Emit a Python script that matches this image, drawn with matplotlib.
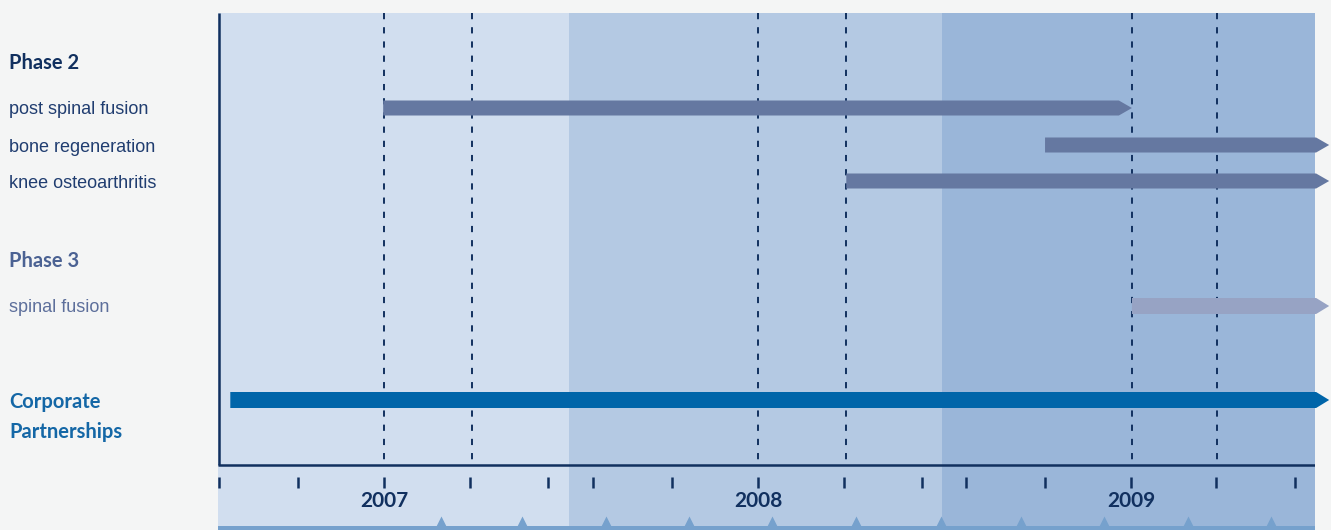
import matplotlib
matplotlib.use("Agg")
import matplotlib.pyplot as plt
import matplotlib.transforms as mtransforms
from matplotlib.patches import Polygon, Rectangle

# timeline, in fractional years
x_start, x_end = 2007.058, 2010.0
year_bands = [(2007.058, 2008.0), (2008.0, 2009.0), (2009.0, 2010.0)]
year_labels = ["2007", "2008", "2009"]
year_label_pos = [2007.505, 2008.507, 2009.508]
tick_pos = [2007.062, 2007.273, 2007.504, 2007.735, 2007.944,
            2008.064, 2008.276, 2008.507, 2008.737, 2008.946,
            2009.064, 2009.276, 2009.507, 2009.735, 2009.946]
dash_pos = [2007.504, 2007.739, 2008.507, 2008.743, 2009.509, 2009.737]
marker_pos = [2007.657, 2007.874, 2008.099, 2008.322, 2008.544, 2008.769,
              2008.997, 2009.212, 2009.434, 2009.659, 2009.882]

# programmes
bar_names = ["post spinal fusion", "bone regeneration", "knee osteoarthritis",
             "spinal fusion", "Corporate Partnerships"]
bar_start = [2007.501, 2009.276, 2008.743, 2009.509, 2007.091]
bar_end = [2009.509, 2010.038, 2010.038, 2010.038, 2010.038]

# layout (rows in pixel units from the top)
bar_rows = [108, 145, 181, 306, 400]
bar_height = [15, 15, 15, 16, 16]
bar_colors = ["#6578a1", "#6578a1", "#6578a1", "#97a3c4", "#0065a9"]
tip = 0.035

navy = "#11305f"
band_colors = ["#d1deef", "#b4c9e3", "#9ab6d9"]

fig = plt.figure(figsize=(13.31, 5.30), dpi=100)
fig.patch.set_facecolor("#f4f5f5")
ax = fig.add_axes([218 / 1331, 0, 1097 / 1331, 517 / 530])
ax.set_xlim(x_start, x_end)
ax.set_ylim(530, 13)
ax.axis("off")

for (a, b), c in zip(year_bands, band_colors):
    ax.axvspan(a, b, color=c, lw=0, zorder=0)

# dashed guides
ax.vlines(dash_pos, 13, 465, colors=navy, lw=1.4,
          linestyles=(0, (3.2, 4.1)), zorder=2)

# frame
ax.plot([x_start + 0.002, x_start + 0.002], [13, 465], color=navy, lw=1.8,
        zorder=4, solid_capstyle="butt")
ax.plot([x_start, x_end], [465, 465], color=navy, lw=1.8, zorder=4,
        solid_capstyle="butt")
ax.vlines(tick_pos, 477, 488, colors=navy, lw=1.8, zorder=4)

for lab, xp in zip(year_labels, year_label_pos):
    ax.text(xp, 501, lab, ha="center", va="center", fontsize=15,
            fontweight="bold", color=navy, family=["Lato", "DejaVu Sans"])

# bottom strip with small arrows
ax.add_patch(Rectangle((x_start, 526), x_end - x_start, 6, color="#76a1cd",
                       lw=0, zorder=3, clip_on=False))
for xp in marker_pos:
    ax.plot([xp], [520.5], marker="^", ms=7, color="#76a1cd", mec="none",
            zorder=3)
    ax.vlines(xp, 521, 527, colors="#76a1cd", lw=2.4, zorder=3)

# arrow bars
for s, e, y, h, c in zip(bar_start, bar_end, bar_rows, bar_height, bar_colors):
    pts = [(s, y - h / 2), (e - tip, y - h / 2), (e, y),
           (e - tip, y + h / 2), (s, y + h / 2)]
    ax.add_patch(Polygon(pts, closed=True, fc=c, ec="none", zorder=3,
                         clip_on=False))

# left labels
tr = mtransforms.blended_transform_factory(fig.transFigure, ax.transData)
lx = 9 / 1331
head = dict(fontsize=14.5, fontweight="bold", family=["Lato", "DejaVu Sans"],
            va="center", ha="left", transform=tr)
item = dict(fontsize=13, family=["Liberation Sans", "DejaVu Sans"],
            va="center", ha="left", transform=tr)
ax.text(lx, 63, "Phase 2", color=navy, **head)
ax.text(lx, 261, "Phase 3", color="#4b6293", **head)
ax.text(lx, 417, "Corporate\nPartnerships", color="#1467a6",
        linespacing=1.6, **head)
ax.text(lx, bar_rows[0] + 2, bar_names[0], color="#203d70", **item)
ax.text(lx, bar_rows[1] + 2, bar_names[1], color="#203d70", **item)
ax.text(lx, bar_rows[2] + 2, bar_names[2], color="#203d70", **item)
ax.text(lx, bar_rows[3] + 2, bar_names[3], color="#5d6f9b", **item)

fig.savefig("out.png", dpi=100, facecolor=fig.get_facecolor())
